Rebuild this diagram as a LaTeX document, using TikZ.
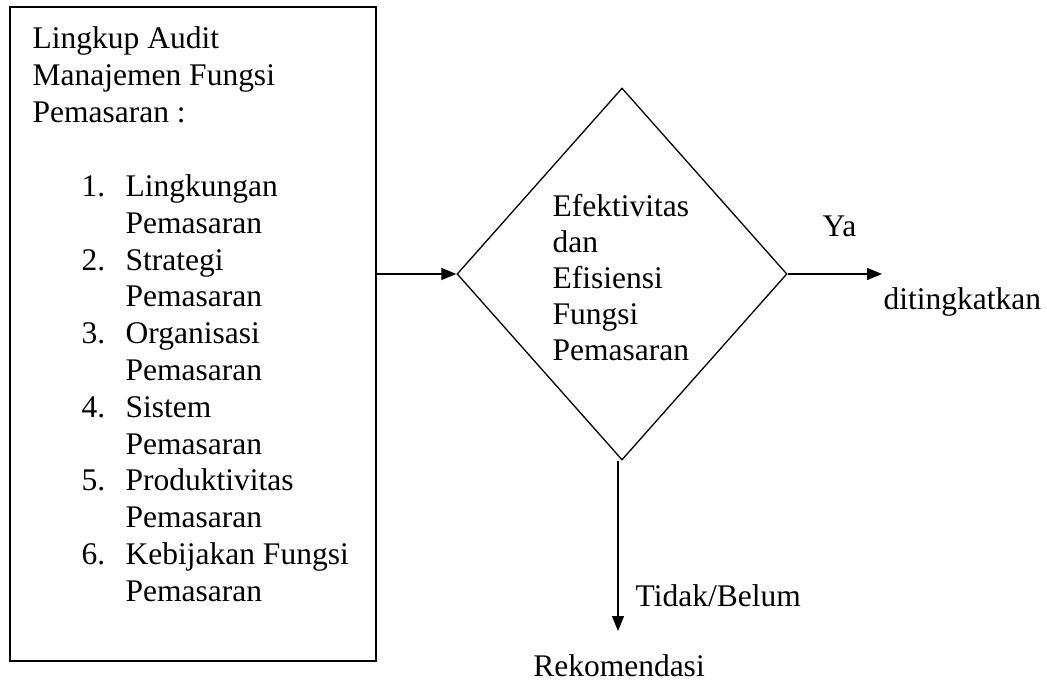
\documentclass[tikz,border=0pt]{standalone}
\usepackage{fontspec}
\setmainfont{Liberation Serif}
\usetikzlibrary{shapes.geometric,arrows.meta}
\begin{document}
\begin{tikzpicture}[x=1pt,y=-1pt,
  line width=1.3pt,
  txt/.style={inner sep=0pt,anchor=base west,font=\fontsize{31.5}{36.8}\selectfont},
  conn/.style={-{Triangle[length=15pt,width=12pt]}},
  frame/.style={draw,rectangle,inner sep=0pt,minimum width=366pt,minimum height=654pt},
  decision/.style={draw,diamond,inner sep=0pt,minimum width=330pt,minimum height=372pt}]
\useasboundingbox (0,0) rectangle (1047,684);
\node[frame] (box) at (193,334) {};
\node[decision] (d) at (622,274) {};
% box heading
\node[txt] (h1) at (32,49) {Lingkup Audit};
\node[txt] (h2) at (32,86) {Manajemen Fungsi};
\node[txt] (h3) at (32,123) {Pemasaran :};
% list
\foreach \n/\k/\a/\b in {1/0/Lingkungan/Pemasaran,2/2/Strategi/Pemasaran,3/4/Organisasi/Pemasaran,4/6/Sistem/Pemasaran,5/8/Produktivitas/Pemasaran,6/10/Kebijakan Fungsi/Pemasaran}{
  \node[txt] (num\n) at (81,196.5+\k*36.8) {\n.};
  \node[txt] (ia\n) at (125,196.5+\k*36.8) {\a};
  \node[txt] (ib\n) at (125,233.3+\k*36.8) {\b};
}
% diamond text
\node[txt] (d1) at (552,217) {Efektivitas};
\node[txt] (d2) at (552,253) {dan};
\node[txt] (d3) at (552,289) {Efisiensi};
\node[txt] (d4) at (552,325) {Fungsi};
\node[txt] (d5) at (552,361) {Pemasaran};
% connectors
\draw[conn] (box.east |- d.west) -- (d.west);
\coordinate (ya) at (882,274);
\draw[conn] (d.east) -- (ya);
\coordinate (n1) at (618,461);
\coordinate (n2) at (618,631);
\draw[conn] (n1) -- (n2);
% labels
\node[txt] (lya) at (822,237) {Ya};
\node[txt] (lup) at (883,310) {ditingkatkan};
\node[txt] (lno) at (635,606) {Tidak/Belum};
\node[txt,anchor=base] (lrek) at (619,676) {Rekomendasi};
\end{tikzpicture}
\end{document}
